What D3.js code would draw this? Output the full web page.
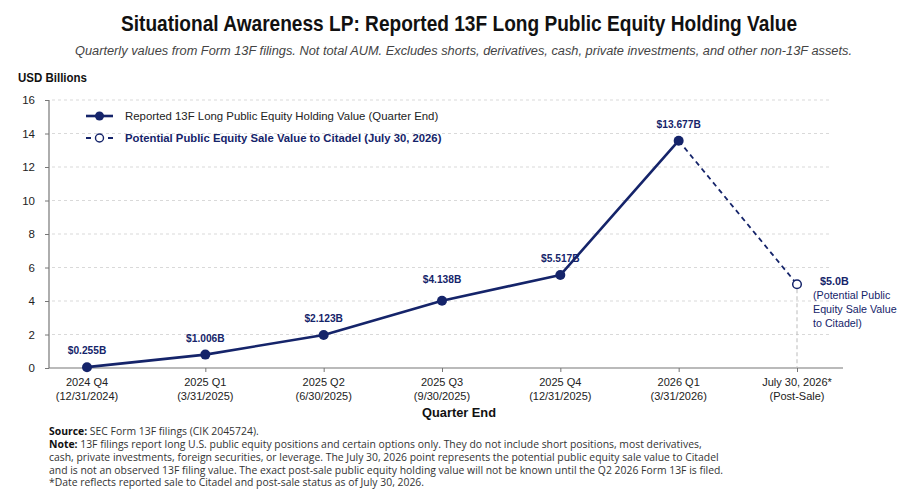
<!DOCTYPE html>
<html>
<head>
<meta charset="utf-8">
<script src="https://cdn.jsdelivr.net/npm/d3@7"></script>
<style>
  body { margin: 0; background: #fff; }
  svg { display: block; }
</style>
</head>
<body>
<script>
// chart data
var categories = ["2024 Q4", "2025 Q1", "2025 Q2", "2025 Q3", "2025 Q4", "2026 Q1", "July 30, 2026*"];
var dateLabels = ["(12/31/2024)", "(3/31/2025)", "(6/30/2025)", "(9/30/2025)", "(12/31/2025)", "(3/31/2026)", "(Post-Sale)"];
var reportedValues = [0.05, 0.8, 1.97, 4.02, 5.55, 13.57];
var reportedLabels = ["$0.255B", "$1.006B", "$2.123B", "$4.138B", "$5.517B", "$13.677B"];
var saleValue = 5.0;
var saleLabel = "$5.0B";
var saleNote = ["(Potential Public", "Equity Sale Value", "to Citadel)"];
var yTicks = [0, 2, 4, 6, 8, 10, 12, 14, 16];
var noteLines = [
  "13F filings report long U.S. public equity positions and certain options only. They do not include short positions, most derivatives,",
  "cash, private investments, foreign securities, or leverage. The July 30, 2026 point represents the potential public equity sale value to Citadel",
  "and is not an observed 13F filing value. The exact post-sale public equity holding value will not be known until the Q2 2026 Form 13F is filed.",
  "*Date reflects reported sale to Citadel and post-sale status as of July 30, 2026."
];

var width = 900, height = 494;
var navy = "#15246a";
var sans = "'Liberation Sans', Arial, sans-serif";
var notesFont = "'Open Sans', 'Noto Sans', sans-serif";

var svg = d3.select("body").append("svg")
  .attr("width", width)
  .attr("height", height);

var x = d3.scalePoint()
  .domain(categories)
  .range([87, 797]);

var y = d3.scaleLinear()
  .domain([0, 16])
  .range([368, 100]);

// title + subtitle (condensed look via textLength, no narrow font installed)
svg.append("text")
  .attr("x", 121).attr("y", 31)
  .attr("textLength", 676)
  .attr("lengthAdjust", "spacingAndGlyphs")
  .style("font-family", sans)
  .style("font-weight", "bold")
  .style("font-size", "22px")
  .style("fill", "#111")
  .text("Situational Awareness LP: Reported 13F Long Public Equity Holding Value");

svg.append("text")
  .attr("x", 75).attr("y", 55)
  .attr("textLength", 777)
  .attr("lengthAdjust", "spacingAndGlyphs")
  .style("font-family", sans)
  .style("font-style", "italic")
  .style("font-size", "12.5px")
  .style("fill", "#444")
  .text("Quarterly values from Form 13F filings. Not total AUM. Excludes shorts, derivatives, cash, private investments, and other non-13F assets.");

svg.append("text")
  .attr("x", 18).attr("y", 82)
  .attr("textLength", 69)
  .attr("lengthAdjust", "spacingAndGlyphs")
  .style("font-family", sans)
  .style("font-weight", "bold")
  .style("font-size", "12px")
  .style("fill", "#111")
  .text("USD Billions");

// gridlines
svg.append("g")
  .selectAll("line")
  .data(yTicks.filter(function(d) { return d > 0; }))
  .enter().append("line")
    .attr("x1", 52).attr("x2", 831)
    .attr("y1", function(d) { return y(d); })
    .attr("y2", function(d) { return y(d); })
    .style("stroke", "#cfcfcf")
    .style("stroke-width", 0.8)
    .style("stroke-dasharray", "3,3");

// y axis
var yAxis = d3.axisLeft(y).tickValues(yTicks).tickSize(4).tickPadding(10);
var gy = svg.append("g")
  .attr("transform", "translate(49,0)")
  .call(yAxis);
gy.select(".domain").remove();
gy.selectAll(".tick line").style("stroke", "#777");
gy.selectAll(".tick text")
  .style("font-family", sans)
  .style("font-size", "11.5px")
  .style("fill", "#222");
svg.append("line")
  .attr("x1", 49).attr("x2", 49)
  .attr("y1", y(16)).attr("y2", y(0))
  .style("stroke", "#777").style("stroke-width", 1.2);

// x axis
var xAxis = d3.axisBottom(x).tickSize(4).tickFormat("");
var gx = svg.append("g")
  .attr("transform", "translate(0," + y(0) + ")")
  .call(xAxis);
gx.select(".domain").remove();
gx.selectAll(".tick line").style("stroke", "#777");
svg.append("line")
  .attr("x1", 49).attr("x2", 843)
  .attr("y1", y(0)).attr("y2", y(0))
  .style("stroke", "#777").style("stroke-width", 1.2);

var tickText = svg.append("g").selectAll("text")
  .data(categories)
  .enter().append("text")
    .attr("x", function(d) { return x(d); })
    .attr("text-anchor", "middle")
    .style("font-family", sans)
    .style("font-size", "11px")
    .style("fill", "#222");
tickText.append("tspan").attr("x", function(d) { return x(d); }).attr("y", 386)
  .text(function(d) { return d; });
tickText.append("tspan").attr("x", function(d) { return x(d); }).attr("y", 400)
  .text(function(d, i) { return dateLabels[i]; });

svg.append("text")
  .attr("x", 459).attr("y", 417)
  .attr("text-anchor", "middle")
  .attr("textLength", 74)
  .attr("lengthAdjust", "spacingAndGlyphs")
  .style("font-family", sans)
  .style("font-weight", "bold")
  .style("font-size", "13px")
  .style("fill", "#111")
  .text("Quarter End");

// vertical dashed drop line for the sale point
svg.append("line")
  .attr("x1", x(categories[6])).attr("x2", x(categories[6]))
  .attr("y1", y(saleValue) + 5).attr("y2", y(0))
  .style("stroke", "#bbb")
  .style("stroke-width", 1)
  .style("stroke-dasharray", "4,3");

// reported line
var reported = reportedValues.map(function(v, i) { return { cat: categories[i], value: v, label: reportedLabels[i] }; });

var line = d3.line()
  .x(function(d) { return x(d.cat); })
  .y(function(d) { return y(d.value); });

svg.append("path")
  .datum(reported)
  .attr("d", line)
  .style("fill", "none")
  .style("stroke", navy)
  .style("stroke-width", 2.6)
  .style("stroke-linejoin", "round");

// dashed projection to sale value
var last = reported[reported.length - 1];
svg.append("path")
  .datum([last, { cat: categories[6], value: saleValue }])
  .attr("d", line)
  .style("fill", "none")
  .style("stroke", navy)
  .style("stroke-width", 1.8)
  .style("stroke-dasharray", "5,4");

svg.append("g").selectAll("circle")
  .data(reported)
  .enter().append("circle")
    .attr("cx", function(d) { return x(d.cat); })
    .attr("cy", function(d) { return y(d.value); })
    .attr("r", 5)
    .style("fill", navy);

svg.append("g").selectAll("text")
  .data(reported)
  .enter().append("text")
    .attr("x", function(d) { return x(d.cat); })
    .attr("y", function(d, i) { return y(d.value) - (i === 3 ? 18 : 13); })
    .attr("text-anchor", "middle")
    .style("font-family", sans)
    .style("font-weight", "bold")
    .style("font-size", "10.2px")
    .style("fill", navy)
    .text(function(d) { return d.label; });

svg.append("circle")
  .attr("cx", x(categories[6]))
  .attr("cy", y(saleValue))
  .attr("r", 4.3)
  .style("fill", "#fff")
  .style("stroke", navy)
  .style("stroke-width", 1.5);

svg.append("text")
  .attr("x", x(categories[6]) + 23)
  .attr("y", y(saleValue) + 1)
  .style("font-family", sans)
  .style("font-weight", "bold")
  .style("font-size", "10.8px")
  .style("fill", navy)
  .text(saleLabel);

svg.append("g").selectAll("text")
  .data(saleNote)
  .enter().append("text")
    .attr("x", x(categories[6]) + 16)
    .attr("y", function(d, i) { return y(saleValue) + 15 + i * 13.7; })
    .style("font-family", sans)
    .style("font-size", "10.7px")
    .style("fill", navy)
    .text(function(d) { return d; });

// legend
var legend = svg.append("g").attr("transform", "translate(86,116)");
legend.append("line")
  .attr("x1", 0).attr("x2", 27).attr("y1", 0).attr("y2", 0)
  .style("stroke", navy).style("stroke-width", 2.6);
legend.append("circle").attr("cx", 13.5).attr("cy", 0).attr("r", 4.5).style("fill", navy);
legend.append("text")
  .attr("x", 39).attr("y", 4)
  .style("font-family", sans)
  .style("font-size", "11.4px")
  .style("fill", "#222")
  .text("Reported 13F Long Public Equity Holding Value (Quarter End)");

legend.append("line")
  .attr("x1", 0).attr("x2", 27).attr("y1", 22).attr("y2", 22)
  .style("stroke", navy).style("stroke-width", 1.8).style("stroke-dasharray", "5,17");
legend.append("line")
  .attr("x1", 22).attr("x2", 27).attr("y1", 22).attr("y2", 22)
  .style("stroke", navy).style("stroke-width", 1.8);
legend.append("circle").attr("cx", 13.5).attr("cy", 22).attr("r", 4)
  .style("fill", "#fff").style("stroke", navy).style("stroke-width", 1.4);
legend.append("text")
  .attr("x", 39).attr("y", 26)
  .style("font-family", sans)
  .style("font-weight", "bold")
  .style("font-size", "11.3px")
  .style("fill", navy)
  .text("Potential Public Equity Sale Value to Citadel (July 30, 2026)");

// source and notes
var notes = svg.append("g")
  .style("font-family", notesFont)
  .style("font-size", "10.4px")
  .style("fill", "#333");

var src = notes.append("text").attr("x", 49).attr("y", 435);
src.append("tspan").style("font-weight", "bold").style("fill", "#111").text("Source:");
src.append("tspan").text(" SEC Form 13F filings (CIK 2045724).");

notes.selectAll(".note")
  .data(noteLines)
  .enter().append("text")
    .attr("class", "note")
    .attr("x", 49)
    .attr("y", function(d, i) { return 448 + i * 12.8; })
    .each(function(d, i) {
      var t = d3.select(this);
      if (i === 0) {
        t.append("tspan").style("font-weight", "bold").style("fill", "#111").text("Note:");
        t.append("tspan").text(" " + d);
      } else {
        t.text(d);
      }
    });
</script>
</body>
</html>
